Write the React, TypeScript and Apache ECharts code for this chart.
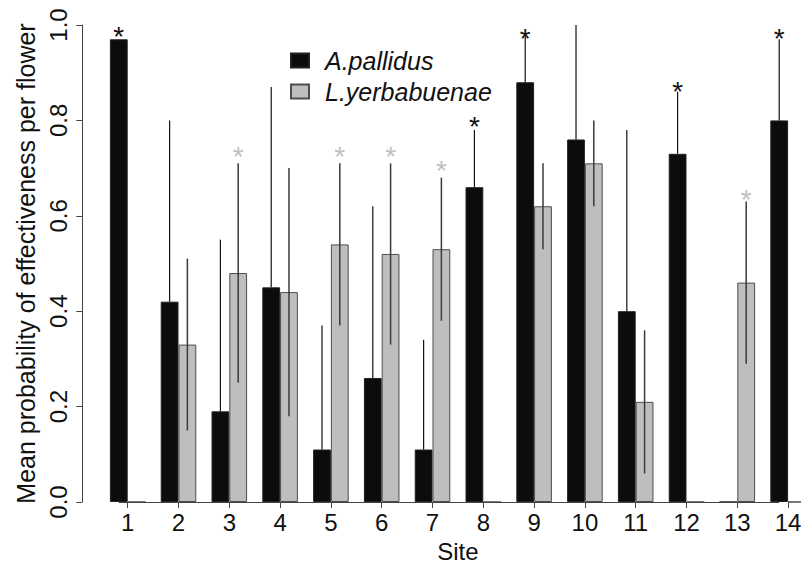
import React, { useEffect, useRef } from "react";
import * as echarts from "echarts";

const sites = ["1", "2", "3", "4", "5", "6", "7", "8", "9", "10", "11", "12", "13", "14"];
const pallidus = [0.97, 0.42, 0.19, 0.45, 0.11, 0.26, 0.11, 0.66, 0.88, 0.76, 0.4, 0.73, 0, 0.8];
const pallidusUpper = [0.97, 0.8, 0.55, 0.87, 0.37, 0.62, 0.34, 0.78, 0.98, 1.0, 0.78, 0.86, null, 0.97];
const yerba = [0, 0.33, 0.48, 0.44, 0.54, 0.52, 0.53, 0, 0.62, 0.71, 0.21, 0, 0.46, 0];
const yerbaUpper = [null, 0.51, 0.71, 0.7, 0.71, 0.71, 0.68, null, 0.71, 0.8, 0.36, null, 0.63, null];
const yerbaLower = [null, 0.15, 0.25, 0.18, 0.37, 0.33, 0.38, null, 0.53, 0.62, 0.06, null, 0.29, null];
const pallidusStars = [0.99, null, null, null, null, null, null, 0.8, 0.985, null, null, 0.875, null, 0.985];
const yerbaStars = [null, null, 0.738, null, 0.738, 0.738, 0.709, null, null, null, null, null, 0.648, null];
const yTicks = [0, 0.2, 0.4, 0.6, 0.8, 1.0];

const FONT = "'Liberation Sans', Arial, Helvetica, sans-serif";
const BAR_FRAC = 0.35;

export default function App() {
  const ref = useRef<HTMLDivElement>(null);
  useEffect(() => {
    if (!ref.current) return;
    const chart = echarts.init(ref.current, null, { renderer: "svg" });

    const errA = pallidus
      .map((v, i) => (pallidusUpper[i] == null ? null : [i, v, pallidusUpper[i]]))
      .filter((d) => d !== null);
    const errL = yerba
      .map((_, i) => (yerbaUpper[i] == null ? null : [i, yerbaLower[i], yerbaUpper[i]]))
      .filter((d) => d !== null);
    const starA = pallidusStars.map((v, i) => (v == null ? null : [i, v])).filter((d) => d !== null);
    const starL = yerbaStars.map((v, i) => (v == null ? null : [i, v])).filter((d) => d !== null);

    const errRender = (side: number, color: string, width: number) => (params: any, api: any) => {
      const i = api.value(0);
      const bw = api.size([1, 0])[0];
      const x = api.coord([i, 0])[0] + side * (BAR_FRAC / 2) * bw;
      const y1 = api.coord([i, api.value(1)])[1];
      const y2 = api.coord([i, api.value(2)])[1];
      return {
        type: "line",
        shape: { x1: x, y1, x2: x, y2 },
        style: { stroke: color, lineWidth: width },
      };
    };
    const starRender = (side: number, color: string) => (params: any, api: any) => {
      const i = api.value(0);
      const bw = api.size([1, 0])[0];
      const p = api.coord([i, api.value(1)]);
      return {
        type: "text",
        x: p[0] + side * (BAR_FRAC / 2) * bw,
        y: p[1] + 6.5,
        style: {
          text: "*",
          fontSize: 28,
          fontFamily: FONT,
          fill: color,
          align: "center",
          verticalAlign: "middle",
        },
      };
    };

    chart.setOption({
      animation: false,
      backgroundColor: "#ffffff",
      textStyle: { fontFamily: FONT },
      grid: {
        left: 102.3,
        top: 25,
        width: 711.2,
        height: 477,
        containLabel: false,
        outerBoundsMode: "none",
      },
      legend: {
        data: ["A.pallidus", "L.yerbabuenae"],
        orient: "vertical",
        left: 285,
        top: 43,
        itemWidth: 18,
        itemHeight: 14,
        itemGap: 6,
        icon: "rect",
        selectedMode: false,
        textStyle: {
          fontFamily: FONT,
          fontSize: 25,
          fontStyle: "italic",
          color: "#111",
          padding: [0, 0, 0, 11],
        },
      },
      xAxis: {
        type: "category",
        data: sites,
        boundaryGap: true,
        axisLine: { show: false },
        axisTick: { show: true, alignWithLabel: true, length: 6, lineStyle: { color: "#444", width: 1 } },
        axisLabel: { fontSize: 24, color: "#111", margin: 8, fontFamily: FONT },
        name: "Site",
        nameLocation: "middle",
        nameGap: 37,
        nameTextStyle: { fontSize: 24, color: "#111", fontFamily: FONT },
        splitLine: { show: false },
      },
      yAxis: {
        type: "value",
        min: 0,
        max: 1,
        interval: 0.2,
        offset: 20,
        axisLine: { show: true, lineStyle: { color: "#444", width: 1 } },
        axisTick: { show: true, length: 6, lineStyle: { color: "#444", width: 1 } },
        axisLabel: {
          rotate: 90,
          fontSize: 24,
          color: "#111",
          margin: 12,
          fontFamily: FONT,
          formatter: (v: number) => (yTicks.some((t) => Math.abs(t - v) < 1e-9) ? v.toFixed(1) : ""),
        },
        splitLine: { show: false },
        name: "Mean probability of effectiveness per flower",
        nameLocation: "middle",
        nameGap: 41,
        nameTextStyle: { fontSize: 25, color: "#111", fontFamily: FONT },
      },
      series: [
        {
          name: "A.pallidus",
          type: "bar",
          data: pallidus,
          barWidth: BAR_FRAC * 100 + "%",
          barGap: "0%",
          itemStyle: { color: "#0c0c0c", borderColor: "#222", borderWidth: 1 },
          markLine: {
            silent: true,
            symbol: "none",
            label: { show: false },
            lineStyle: { color: "#444", width: 1, type: "solid" },
            data: [[{ coord: ["1", 0] }, { coord: ["14", 0] }]],
          },
          z: 2,
        },
        {
          name: "L.yerbabuenae",
          type: "bar",
          data: yerba,
          barWidth: BAR_FRAC * 100 + "%",
          barGap: "0%",
          itemStyle: { color: "#bebebe", borderColor: "#4d4d4d", borderWidth: 1 },
          z: 2,
        },
        {
          type: "custom",
          data: errA,
          renderItem: errRender(-1, "#111", 1.2),
          z: 5,
          silent: true,
        },
        {
          type: "custom",
          data: errL,
          renderItem: errRender(1, "#3a3a3a", 1.5),
          z: 5,
          silent: true,
        },
        {
          type: "custom",
          data: starA,
          renderItem: starRender(-1, "#111"),
          z: 6,
          silent: true,
          clip: false,
        },
        {
          type: "custom",
          data: starL,
          renderItem: starRender(1, "#c0c0c0"),
          z: 6,
          silent: true,
          clip: false,
        },
      ],
    });
    return () => chart.dispose();
  }, []);
  return (
    <div
      ref={ref}
      style={{ position: "absolute", left: 0, top: 0, width: 801, height: 564, background: "#fff" }}
    />
  );
}
